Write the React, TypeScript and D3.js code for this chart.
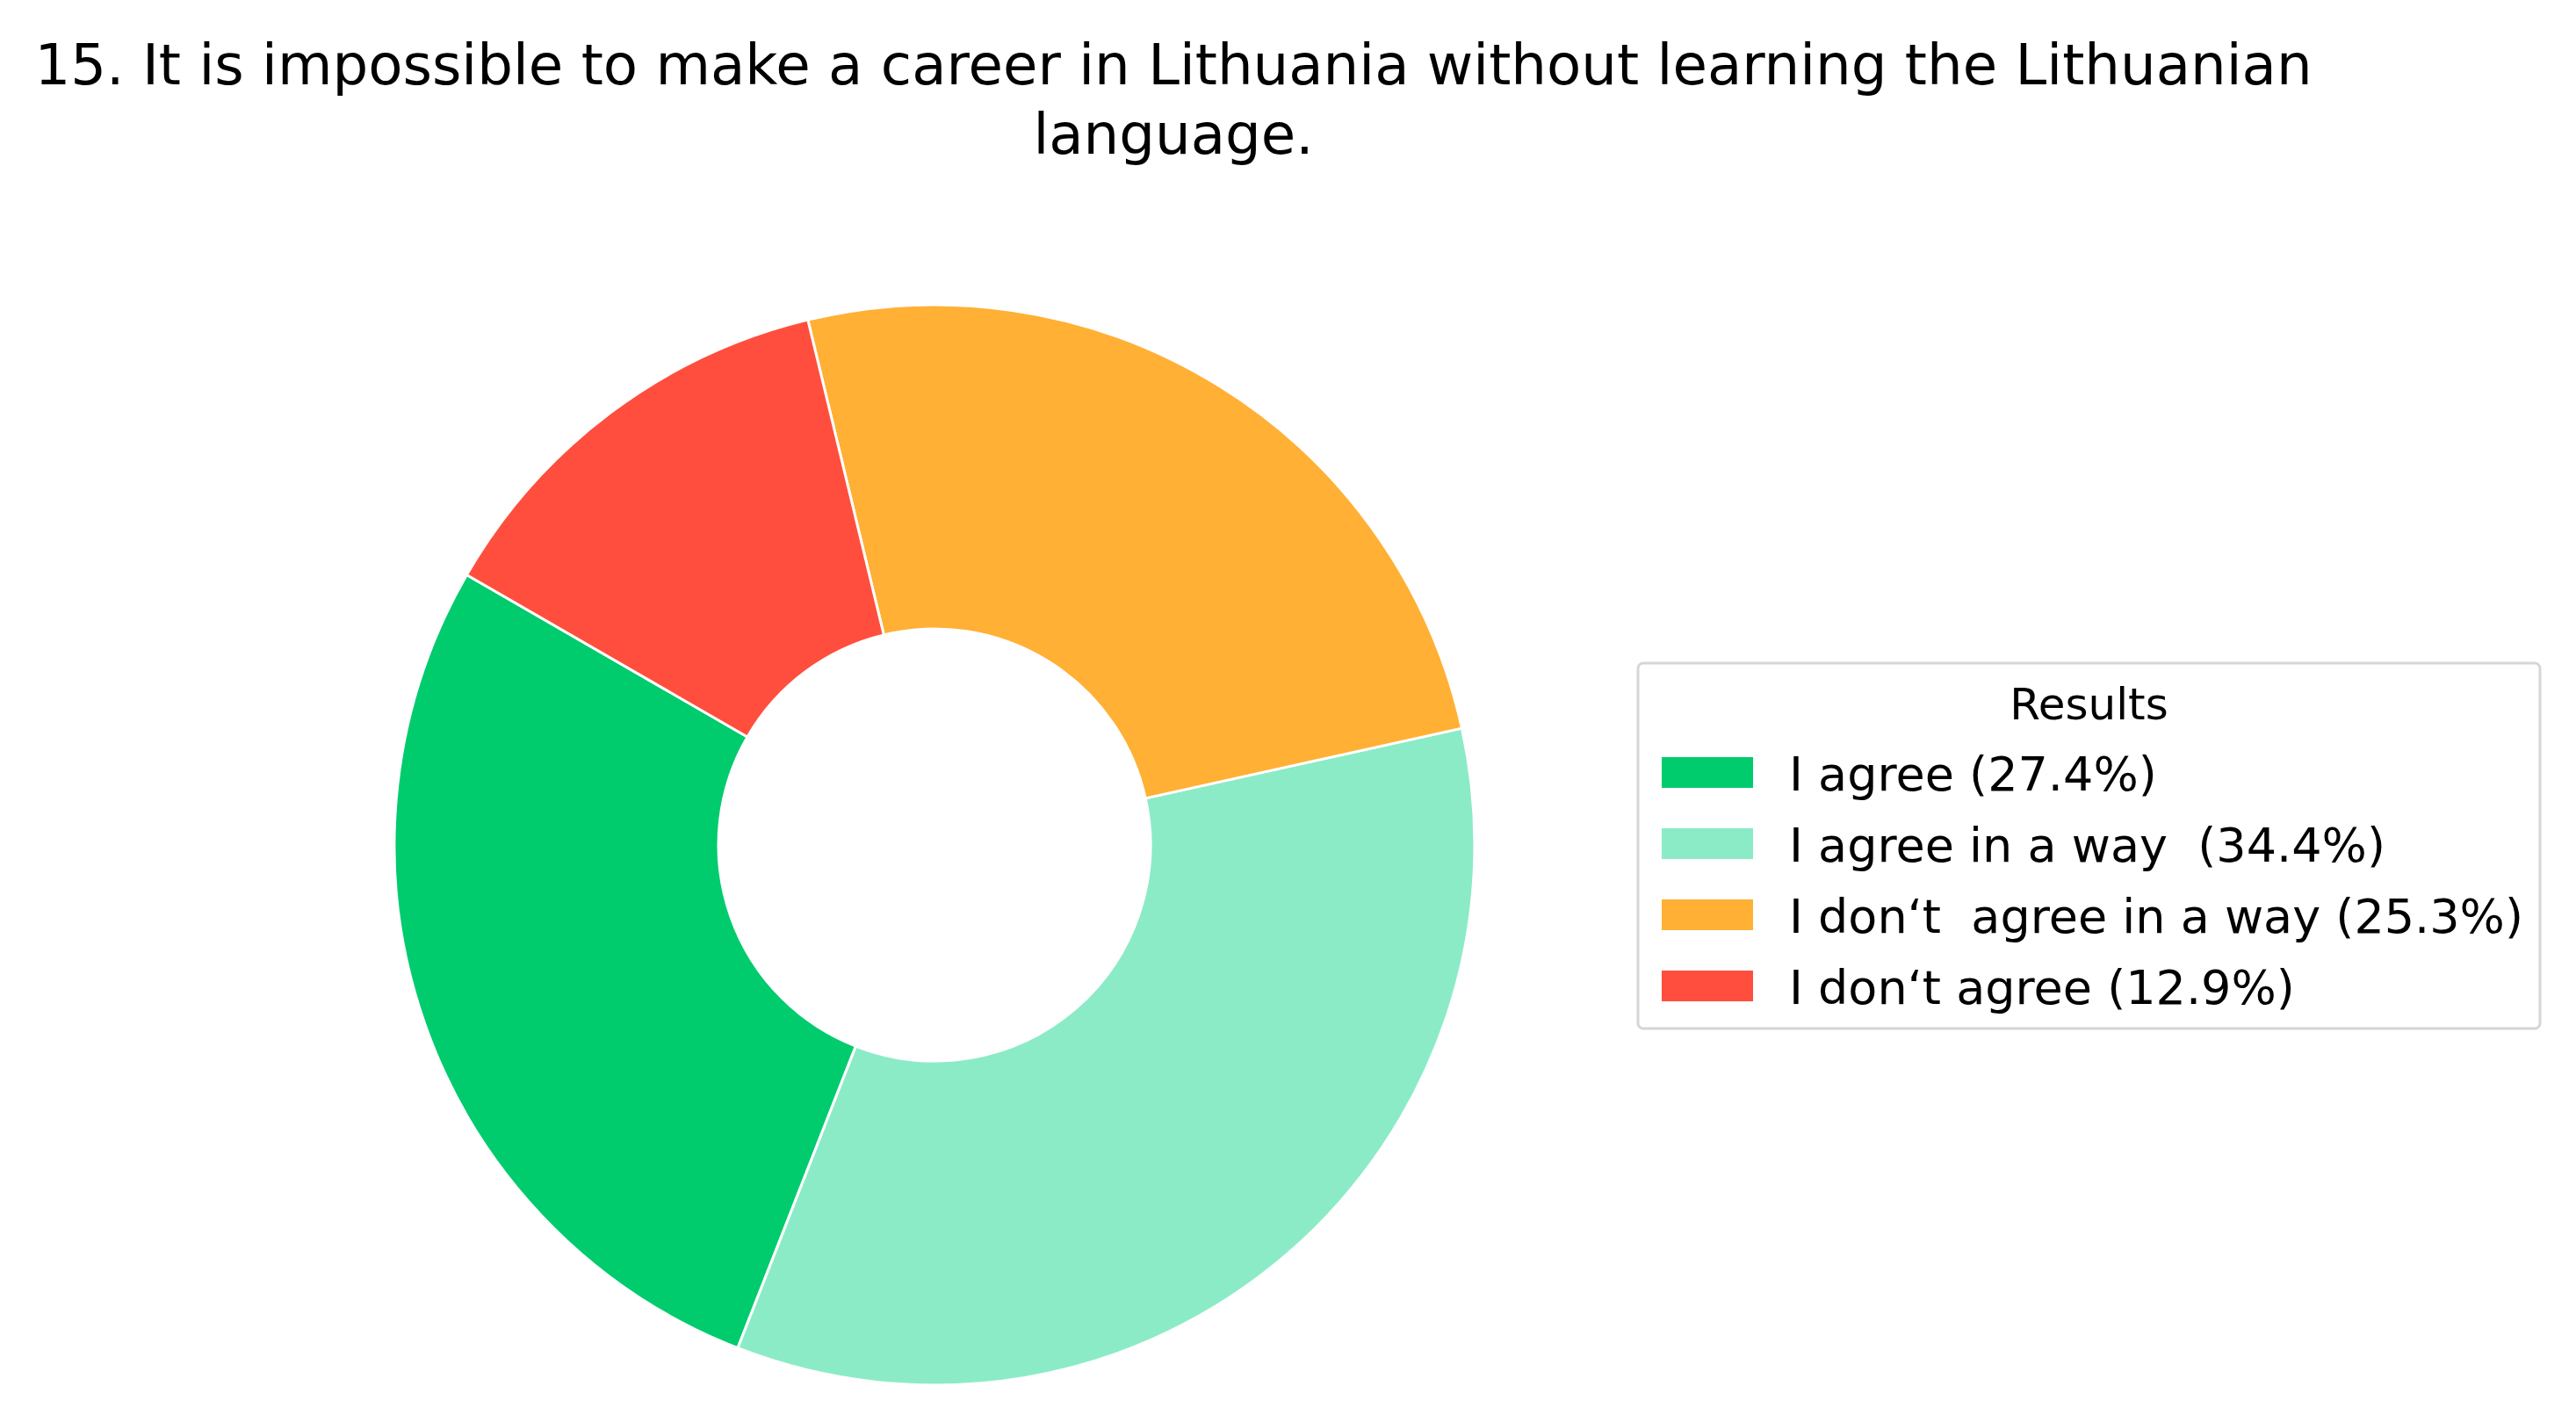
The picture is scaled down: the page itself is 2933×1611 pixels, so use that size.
import React from "react";
import * as d3 from "d3";

const categories = ["I agree", "I agree in a way ", "I don\u2018t  agree in a way", "I don\u2018t agree"];
const values = [27.4, 34.4, 25.3, 12.9];
const colors = ["#00CC6E", "#8CEBC7", "#FFB035", "#FF4E3D"];
const titleLines = [
  "15. It is impossible to make a career in Lithuania without learning the Lithuanian",
  "language.",
];
const legendTitle = "Results";

const W = 2933;
const H = 1611;
const FONT = "'DejaVu Sans', sans-serif";

export default function App() {
  const cx = 1064;
  const cy = 962;
  const rOuter = 615;
  const rInner = 0.4 * rOuter;
  // matplotlib startangle=150 (ccw) -> d3 angle
  const start = ((90 - 150) * Math.PI) / 180;
  const pie = d3
    .pie<number>()
    .sort(null)
    .value((d) => d)
    .startAngle(start)
    .endAngle(start - 2 * Math.PI);
  const arcs = pie(values);
  const arc = d3.arc<d3.PieArcDatum<number>>().innerRadius(rInner).outerRadius(rOuter);

  const lgX = 1865;
  const lgY = 755;
  const lgW = 2892 - 1865;
  const lgH = 1171 - 755;
  const rowStep = 81;

  return (
    <div style={{ position: "absolute", left: 0, top: 0 }}>
      <svg width={W} height={H} style={{ display: "block", background: "#fff" }}>
        {titleLines.map((t, i) => (
          <text
            key={i}
            x={1336}
            y={96 + i * 79}
            textAnchor="middle"
            fontFamily={FONT}
            fontSize={64.2}
            fill="#000"
          >
            {t}
          </text>
        ))}
        <g transform={`translate(${cx},${cy})`}>
          {arcs.map((a, i) => (
            <path key={i} d={arc(a) || ""} fill={colors[i]} stroke="#fff" strokeWidth={3} strokeLinejoin="round" />
          ))}
        </g>
        <rect
          x={lgX}
          y={lgY}
          width={lgW}
          height={lgH}
          rx={6}
          ry={6}
          fill="#fff"
          fillOpacity={0.8}
          stroke="#d6d6d6"
          strokeWidth={3}
        />
        <text
          x={lgX + lgW / 2}
          y={819}
          textAnchor="middle"
          fontFamily={FONT}
          fontSize={50}
          fill="#000"
        >
          {legendTitle}
        </text>
        {categories.map((c, i) => (
          <g key={i}>
            <rect x={1892} y={862 + i * rowStep} width={104} height={35} fill={colors[i]} />
            <text
              x={2037}
              y={900 + i * rowStep}
              fontFamily={FONT}
              fontSize={54}
              fill="#000"
              style={{ whiteSpace: "pre" }}
            >
              {`${c} (${values[i]}%)`}
            </text>
          </g>
        ))}
      </svg>
    </div>
  );
}
